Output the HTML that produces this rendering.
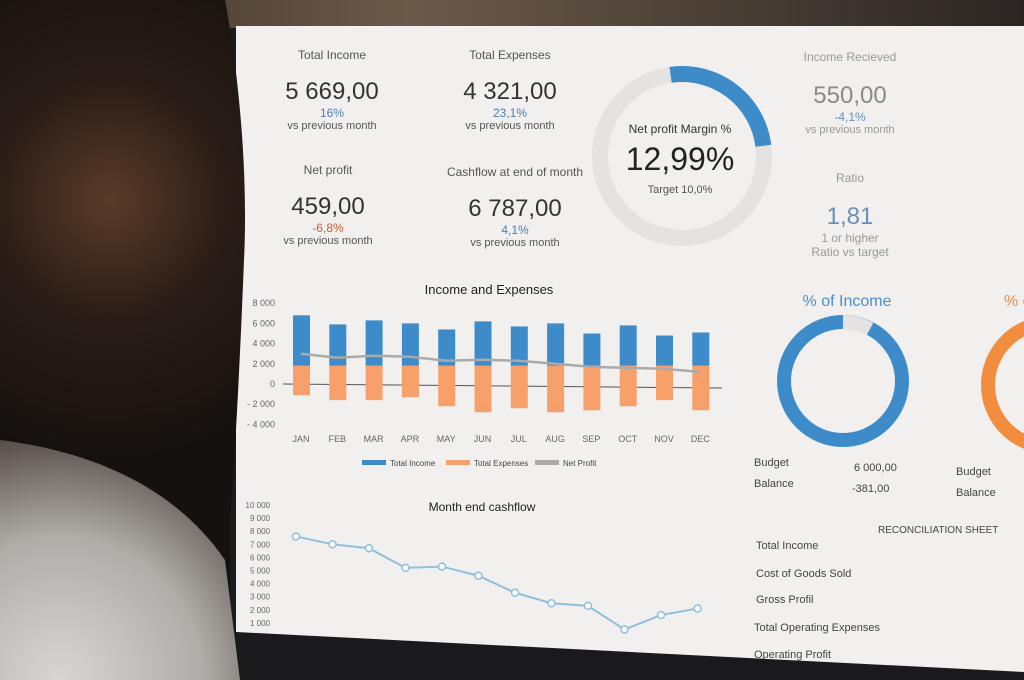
<!DOCTYPE html>
<html><head><meta charset="utf-8"><style>
body{margin:0;width:1024px;height:680px;overflow:hidden;background:#1c1a1a;font-family:"Liberation Sans",sans-serif;position:relative}
.abs{position:absolute}
.t{position:absolute;text-align:center;color:#555}
</style></head><body>
<div class="abs" style="left:0;top:0;width:1024px;height:28px;background:linear-gradient(90deg,#3a2e28,#6b5a4a 40%,#2a2522)"></div>
<div class="abs" style="left:236px;top:26px;width:800px;height:654px;background:#f1f0ef"></div>

<div class="t" style="left:262px;top:48px;width:140px"><div style="font-size:12px">Total Income</div><div style="font-size:24px;margin-top:16px;color:#333">5 669,00</div><div style="font-size:12px;color:#4a7fb8">16%</div><div style="font-size:11px">vs previous month</div></div>
<div class="t" style="left:440px;top:48px;width:140px"><div style="font-size:12px">Total Expenses</div><div style="font-size:24px;margin-top:16px;color:#333">4 321,00</div><div style="font-size:12px;color:#4a7fb8">23,1%</div><div style="font-size:11px">vs previous month</div></div>
<div class="t" style="left:258px;top:163px;width:140px"><div style="font-size:12px">Net profit</div><div style="font-size:24px;margin-top:16px;color:#333">459,00</div><div style="font-size:12px;color:#d05a30">-6,8%</div><div style="font-size:11px">vs previous month</div></div>
<div class="t" style="left:440px;top:165px;width:150px"><div style="font-size:12px">Cashflow at end of month</div><div style="font-size:24px;margin-top:16px;color:#333">6 787,00</div><div style="font-size:12px;color:#4a7fb8">4,1%</div><div style="font-size:11px">vs previous month</div></div>
<div class="t" style="left:780px;top:50px;width:140px;color:#999"><div style="font-size:12px">Income Recieved</div><div style="font-size:24px;margin-top:18px;color:#8a8a8a">550,00</div><div style="font-size:12px;color:#6a8fb8">-4,1%</div><div style="font-size:11px">vs previous month</div></div>
<div class="t" style="left:780px;top:171px;width:140px;color:#999"><div style="font-size:12px">Ratio</div><div style="font-size:24px;margin-top:18px;color:#6a8fb8">1,81</div><div style="font-size:12px">1 or higher</div><div style="font-size:12px">Ratio vs target</div></div>

<svg class="abs" style="left:0;top:0" width="1024" height="680">
<circle cx="682" cy="156" r="82" fill="none" stroke="#e4e3e2" stroke-width="16"/>
<circle cx="682" cy="156" r="82" fill="none" stroke="#3d8cc9" stroke-width="16" stroke-dasharray="130 600" transform="rotate(-90 682 156) rotate(-8 682 156)"/>
<text x="680" y="133" font-size="12" text-anchor="middle" fill="#333">Net profit Margin %</text>
<text x="680" y="170" font-size="32" text-anchor="middle" fill="#222">12,99%</text>
<text x="680" y="193" font-size="11" text-anchor="middle" fill="#555">Target 10,0%</text>
<text x="847" y="306" font-size="16" text-anchor="middle" fill="#4a8fc9">% of Income</text>
<circle cx="843" cy="381" r="59" fill="none" stroke="#3d8cc9" stroke-width="14"/>
<path d="M843 322 A59 59 0 0 1 870 329" fill="none" stroke="#e4e3e2" stroke-width="14"/>
<text x="754" y="466" font-size="11" fill="#444">Budget</text><text x="854" y="471" font-size="11" fill="#444">6 000,00</text>
<text x="754" y="487" font-size="11" fill="#444">Balance</text><text x="852" y="492" font-size="11" fill="#444">-381,00</text>
<text x="1004" y="306" font-size="16" fill="#f08a3c">% of</text>
<circle cx="1050" cy="385" r="62" fill="none" stroke="#f28c3e" stroke-width="14"/>
<text x="956" y="475" font-size="11" fill="#444">Budget</text><text x="956" y="496" font-size="11" fill="#444">Balance</text>
<text x="878" y="533" font-size="10" fill="#444">RECONCILIATION SHEET</text>
<text x="756" y="549" font-size="11" fill="#444">Total Income</text>
<text x="756" y="577" font-size="11" fill="#444">Cost of Goods Sold</text>
<text x="756" y="603" font-size="11" fill="#444">Gross Profil</text>
<text x="754" y="631" font-size="11" fill="#444">Total Operating Expenses</text>
<text x="754" y="658" font-size="11" fill="#444">Operating Profit</text>
</svg>

<svg id="bars" class="abs" style="left:0;top:0" width="1024" height="680"></svg>
<script>
const months=["JAN","FEB","MAR","APR","MAY","JUN","JUL","AUG","SEP","OCT","NOV","DEC"];
const income=[6800,5900,6300,6000,5400,6200,5700,6000,5000,5800,4800,5100];
const expenses=[-1100,-1600,-1600,-1300,-2200,-2800,-2400,-2800,-2600,-2200,-1600,-2600];
const netProfit=[3000,2600,2800,2700,2300,2400,2300,2000,1700,1600,1500,1200];
const yTicks=[8000,6000,4000,2000,0,-2000,-4000];
const yTickLabels=["8 000","6 000","4 000","2 000","0","- 2 000","- 4 000"];
const cashMonths=[1,2,3,4,5,6,7,8,9,10,11,12];
const cashflow=[7600,7000,6700,5200,5300,4600,3300,2500,2300,500,1600,2100];
const cashTicks=[10000,9000,8000,7000,6000,5000,4000,3000,2000,1000];
const cashTickLabels=["10 000","9 000","8 000","7 000","6 000","5 000","4 000","3 000","2 000","1 000"];
const NS="http://www.w3.org/2000/svg";
const svg=document.getElementById('bars');
function mk(tag,a,p){const e=document.createElementNS(NS,tag);for(const k in a)e.setAttribute(k,a[k]);(p||svg).appendChild(e);return e;}
const y=v=>384-v*0.0101, x=i=>301+i*36.3, base=1800;
let t=mk('text',{x:489,y:294,'font-size':13,'text-anchor':'middle',fill:'#222'});t.textContent="Income and Expenses";
yTicks.forEach((v,i)=>{const e=mk('text',{x:275,y:y(v)+3,'font-size':9,'text-anchor':'end',fill:'#666'});


e.textContent=yTickLabels[i];});
mk('line',{x1:283,x2:722,y1:y(0),y2:y(0)+4,stroke:'#555','stroke-width':1});
months.forEach((m,i)=>{
const b=mk('rect',{x:x(i)-8,y:y(income[i]),width:17,height:y(base)-y(income[i]),fill:'#3d8cc9'});


const o=mk('rect',{x:x(i)-8,y:y(base),width:17,height:(base-expenses[i])*0.0101,fill:'#f8a06a'});


const l=mk('text',{x:x(i),y:442,'font-size':9,'text-anchor':'middle',fill:'#666'});


l.textContent=m;});
const np=mk('polyline',{points:netProfit.map((v,i)=>x(i)+','+y(v)).join(' '),fill:'none',stroke:'#aaa','stroke-width':2.5});


[[362,'#3d8cc9','Total Income'],[446,'#f8a06a','Total Expenses'],[535,'#aaa','Net Profit']].forEach(([lx,c,s])=>{
const r=mk('rect',{x:lx,y:460,width:24,height:5,fill:c});


const e=mk('text',{x:lx+28,y:466,'font-size':8,fill:'#444'});e.textContent=s;});
t=mk('text',{x:482,y:511,'font-size':12,'text-anchor':'middle',fill:'#222'});t.textContent="Month end cashflow";
const cy=v=>636-v*0.0131, cx=i=>296+(i-1)*36.5;
cashTicks.forEach((v,i)=>{const e=mk('text',{x:270,y:cy(v)+3,'font-size':8,'text-anchor':'end',fill:'#666'});


e.textContent=cashTickLabels[i];});
const cl=mk('polyline',{points:cashflow.map((v,i)=>cx(cashMonths[i])+','+cy(v)).join(' '),fill:'none',stroke:'#8fbfdd','stroke-width':2});


cashflow.forEach((v,i)=>{const c=mk('circle',{cx:cx(cashMonths[i]),cy:cy(v),r:3.5,fill:'#fff',stroke:'#8fbfdd','stroke-width':1.5});

});
</script>
<svg class="abs" style="left:0;top:0" width="1024" height="680">
<defs>
<radialGradient id="pg" cx="110" cy="200" r="260" gradientUnits="userSpaceOnUse"><stop offset="0" stop-color="#5a3b2a"/><stop offset="0.45" stop-color="#2a1d17"/><stop offset="1" stop-color="#15110f"/></radialGradient>
<radialGradient id="sg" cx="60" cy="680" r="260" gradientUnits="userSpaceOnUse"><stop offset="0" stop-color="#d8d6d3"/><stop offset="0.55" stop-color="#b0ada9"/><stop offset="1" stop-color="#4a403c"/></radialGradient>
</defs>
<polygon points="236,632 1024,672 1024,680 220,680 220,632" fill="#1a1a1c"/>
<path d="M0 0 L225 0 C240 80 248 180 244 260 C240 360 236 440 230 520 L230 680 L0 680 Z" fill="url(#pg)"/>
<path d="M0 440 C80 450 170 480 225 560 L240 680 L0 680 Z" fill="url(#sg)"/>
</svg>
</body></html>
